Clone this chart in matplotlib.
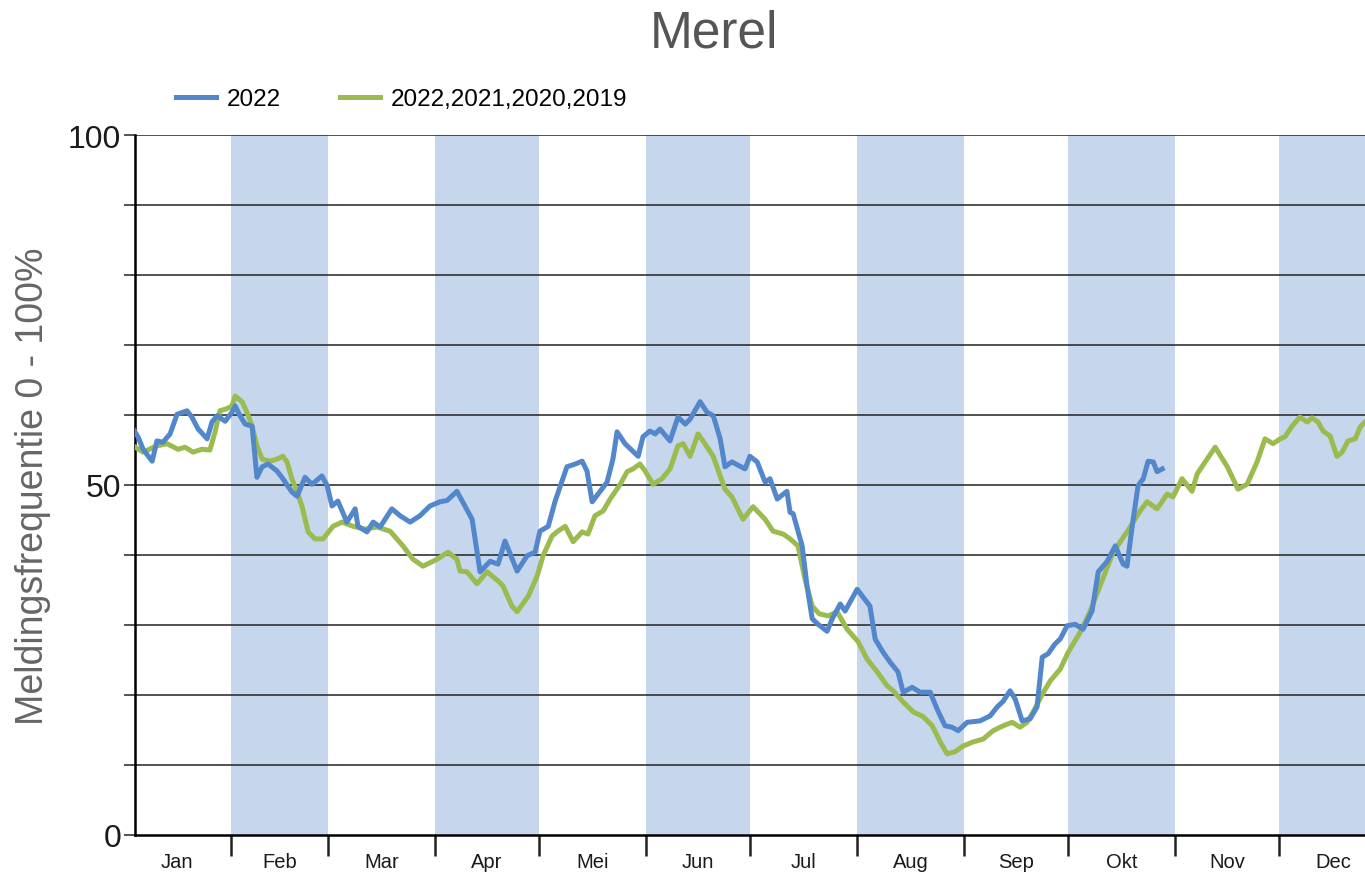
import matplotlib.pyplot as plt
from matplotlib.ticker import FixedLocator, NullFormatter

plt.rcParams['font.family'] = ['Liberation Sans', 'DejaVu Sans']

# ------------------------------------------------------------
# Data (day of year, reporting frequency in %)
# ------------------------------------------------------------
months = ["Jan", "Feb", "Mar", "Apr", "Mei", "Jun",
          "Jul", "Aug", "Sep", "Okt", "Nov", "Dec"]
month_starts = [0, 31, 59, 90, 120, 151, 181, 212, 243, 273, 304, 334, 365]

days_2022 = [2.7, 4.1, 5.6, 8.2, 9.6, 11.3, 13.4, 15.4, 18.3, 19.7, 21.5, 24.1,
             25.5, 27.0, 29.3, 31.3, 32.2, 33.6, 35.1, 37.1, 38.5, 40.0, 41.7,
             44.3, 46.0, 48.6, 50.1, 52.4, 54.4, 57.3, 58.8, 60.2, 61.9, 64.5,
             66.9, 67.7, 70.3, 72.1, 74.1, 77.5, 79.9, 82.8, 85.6, 88.5, 91.4,
             93.5, 96.3, 100.7, 103.0, 105.9, 108.2, 110.2, 113.7, 116.6, 118.9,
             120.3, 122.7, 124.7, 128.1, 130.5, 132.5, 133.9, 135.4, 139.7,
             141.4, 142.6, 144.9, 148.7, 150.1, 152.1, 153.6, 155.0, 157.9,
             160.2, 162.3, 163.7, 166.6, 168.6, 170.4, 172.4, 173.8, 175.8,
             179.6, 181.0, 183.1, 185.4, 186.8, 188.9, 191.7, 192.6, 193.5,
             196.1, 197.5, 199.0, 200.7, 203.3, 204.8, 207.1, 208.5, 212.0,
             215.7, 217.2, 219.5, 221.5, 223.8, 225.3, 227.9, 230.2, 233.1,
             235.1, 237.4, 239.4, 241.2, 243.8, 247.5, 250.4, 252.5, 254.2,
             256.2, 257.7, 259.7, 262.0, 264.0, 265.5, 267.2, 269.2, 270.7,
             272.7, 275.0, 277.3, 279.9, 281.7, 284.3, 286.6, 288.9, 290.0,
             291.5, 293.2, 294.7, 296.1, 297.6, 298.7, 300.2]
freq_2022 = [58.0, 56.9, 55.1, 53.4, 56.3, 56.1, 57.3, 60.1, 60.6, 59.7, 58.0, 56.6,
             59.0, 59.9, 59.1, 60.4, 61.3, 59.9, 58.7, 58.4, 51.1, 52.6, 53.0,
             52.0, 50.9, 49.0, 48.4, 51.1, 50.1, 51.3, 49.9, 47.0, 47.7, 44.7,
             46.6, 44.1, 43.3, 44.7, 44.0, 46.6, 45.6, 44.7, 45.6, 47.0, 47.6,
             47.8, 49.1, 45.1, 37.6, 39.1, 38.7, 42.0, 37.7, 39.9, 40.4,
             43.4, 44.1, 47.7, 52.6, 53.0, 53.4, 52.0, 47.6, 50.4,
             53.7, 57.6, 55.9, 54.1, 56.9, 57.7, 57.3, 58.0, 56.3,
             59.7, 58.7, 59.4, 61.9, 60.4, 59.9, 56.6, 52.6, 53.3,
             52.3, 54.1, 53.3, 50.4, 50.9, 48.0, 49.1, 46.1, 45.9,
             41.3, 35.6, 30.9, 30.1, 29.1, 30.9, 33.0, 32.0, 35.1,
             32.7, 28.0, 26.1, 24.7, 23.3, 20.4, 21.1, 20.4, 20.4,
             18.0, 15.6, 15.4, 14.9, 16.1, 16.3, 17.0, 18.3, 19.1,
             20.6, 19.4, 16.3, 16.6, 18.3, 25.4, 25.9, 27.3, 28.0,
             29.9, 30.1, 29.4, 32.0, 37.6, 39.1, 41.3, 38.7, 38.4,
             44.1, 49.9, 50.9, 53.4, 53.3, 51.9, 52.3]

days_avg = [2.7, 5.6, 9.6, 12.5, 15.7, 17.7, 20.0, 22.6, 24.9, 26.4, 27.8, 29.8,
            31.3, 32.2, 34.2, 35.6, 37.1, 38.5, 40.0, 42.3, 44.3, 46.0, 47.2,
            48.6, 50.1, 51.5, 53.3, 55.3, 57.6, 60.5, 63.1, 66.3, 69.7, 73.2,
            77.0, 80.7, 83.6, 86.5, 90.6, 93.7, 96.3, 97.2, 99.2, 102.1, 105.0,
            108.2, 109.6, 112.2, 113.7, 116.9, 119.5, 121.2, 123.8, 125.2,
            127.6, 129.9, 132.5, 134.2, 136.2, 138.6, 140.6, 143.5, 145.5,
            147.2, 149.2, 150.7, 153.0, 155.6, 157.9, 160.2, 161.7, 163.7,
            166.0, 168.0, 170.4, 172.4, 173.8, 175.8, 179.0, 181.9, 185.4,
            187.7, 190.6, 192.6, 194.9, 196.9, 199.0, 201.0, 203.6, 206.2,
            209.1, 212.3, 214.9, 217.8, 220.7, 222.4, 225.3, 228.2, 231.1,
            233.7, 236.0, 238.0, 240.3, 242.6, 245.5, 248.4, 251.3, 254.2,
            256.8, 259.1, 261.1, 262.9, 265.5, 267.8, 270.7, 273.0, 276.5,
            279.3, 282.2, 286.0, 290.0, 293.8, 295.8, 298.7, 301.6, 303.3,
            305.9, 308.8, 310.3, 312.6, 315.5, 319.0, 322.1, 324.7, 327.6,
            329.9, 332.2, 334.3, 335.7, 337.7, 340.0, 342.1, 343.5, 345.2,
            346.7, 348.7, 350.7, 352.2, 353.9, 356.0, 357.4, 358.8]
freq_avg = [55.6, 54.7, 55.6, 55.9, 55.1, 55.4, 54.7, 55.1, 55.0, 57.6, 60.6, 60.9,
            61.3, 62.7, 61.9, 60.4, 58.4, 55.6, 53.7, 53.4, 53.7, 54.1, 53.3,
            50.9, 49.0, 47.0, 43.3, 42.3, 42.3, 44.1, 44.7, 44.1, 43.7, 44.0,
            43.4, 41.3, 39.4, 38.4, 39.4, 40.4, 39.4, 37.7, 37.6, 35.9, 37.6,
            36.3, 35.6, 32.7, 31.9, 34.1, 37.0, 39.9, 42.7, 43.3,
            44.1, 41.9, 43.3, 43.0, 45.6, 46.3, 48.0, 50.1, 51.9,
            52.3, 53.0, 52.0, 50.1, 50.9, 52.3, 55.6, 55.9, 54.1,
            57.3, 55.9, 54.1, 51.3, 49.4, 48.3, 45.1, 46.9, 45.1,
            43.4, 43.0, 42.3, 41.3, 36.6, 32.7, 31.6, 31.3, 31.9,
            29.4, 27.6, 25.1, 23.3, 21.3, 20.6, 19.0, 17.6, 16.9,
            15.6, 13.3, 11.6, 11.9, 12.7, 13.3, 13.7, 14.9, 15.6,
            16.1, 15.4, 16.1, 17.6, 20.1, 22.0, 23.7, 26.1, 29.0,
            31.9, 35.6, 40.4, 43.3, 46.3, 47.6, 46.6, 48.7, 48.3,
            50.9, 49.1, 51.6, 53.3, 55.4, 52.6, 49.4, 50.1, 53.3,
            56.6, 55.9, 56.6, 56.9, 58.4, 59.7, 59.0, 59.6, 59.0,
            57.7, 57.0, 54.1, 54.7, 56.3, 56.6, 58.3, 59.0]

blue = "#5387cc"
green = "#9bbb4f"
band = "#c6d6ec"

# ------------------------------------------------------------
# Figure
# ------------------------------------------------------------
fig = plt.figure(figsize=(13.65, 8.87), dpi=100)
ax = fig.add_axes([135 / 1365, 1 - 836 / 887, 1 - 135 / 1365, 700 / 887])

# shaded even months
for i in range(1, 12, 2):
    ax.axvspan(month_starts[i], month_starts[i + 1], color=band, lw=0, zorder=0)

# horizontal grid every 10
for v in range(10, 101, 10):
    ax.axhline(v, color="#222222", lw=1.1, zorder=1)

ax.plot(days_avg, freq_avg, color=green, lw=3.6, label="2022,2021,2020,2019",
        zorder=3, solid_joinstyle="round")
ax.plot(days_2022, freq_2022, color=blue, lw=3.6, label="2022",
        zorder=4, solid_joinstyle="round")

ax.set_xlim(3.25, 358.8)
ax.set_ylim(0, 100)

for side in ["top", "right"]:
    ax.spines[side].set_visible(False)
ax.spines["left"].set_linewidth(1.8)
ax.spines["bottom"].set_linewidth(1.8)

# y ticks
ax.set_yticks(range(0, 101, 10))
ax.set_yticklabels([str(v) if v % 50 == 0 else "" for v in range(0, 101, 10)],
                   fontsize=23, color="#1a1a1a")
ax.tick_params(axis="y", length=8, width=1.1, pad=2, color="#222222")

# x ticks: boundaries as marks, month names centred
ax.xaxis.set_major_locator(FixedLocator(month_starts[1:12]))
ax.xaxis.set_major_formatter(NullFormatter())
centres = [(month_starts[i] + month_starts[i + 1]) / 2 for i in range(12)]
ax.xaxis.set_minor_locator(FixedLocator(centres))
ax.set_xticklabels(months, minor=True, fontsize=14.5, color="#1a1a1a")
ax.tick_params(axis="x", which="major", length=15, width=1.8, color="#222222")
ax.tick_params(axis="x", which="minor", length=0, pad=12)

ax.set_ylabel("Meldingsfrequentie 0 - 100%", fontsize=27, color="#666666",
              labelpad=12)

fig.text(714 / 1365, 1 - 34 / 887, "Merel", fontsize=37, color="#555555",
         ha="center", va="center")

handles, labels = ax.get_legend_handles_labels()
ax.legend(handles[::-1], labels[::-1], ncol=2, frameon=False, fontsize=17.5,
          loc="center left", bbox_to_anchor=(176 / 1365, 1 - 100 / 887),
          bbox_transform=fig.transFigure, borderaxespad=0, borderpad=0,
          handlelength=1.65, handletextpad=0.45, columnspacing=2.4)

fig.savefig("out.png", dpi=100)
